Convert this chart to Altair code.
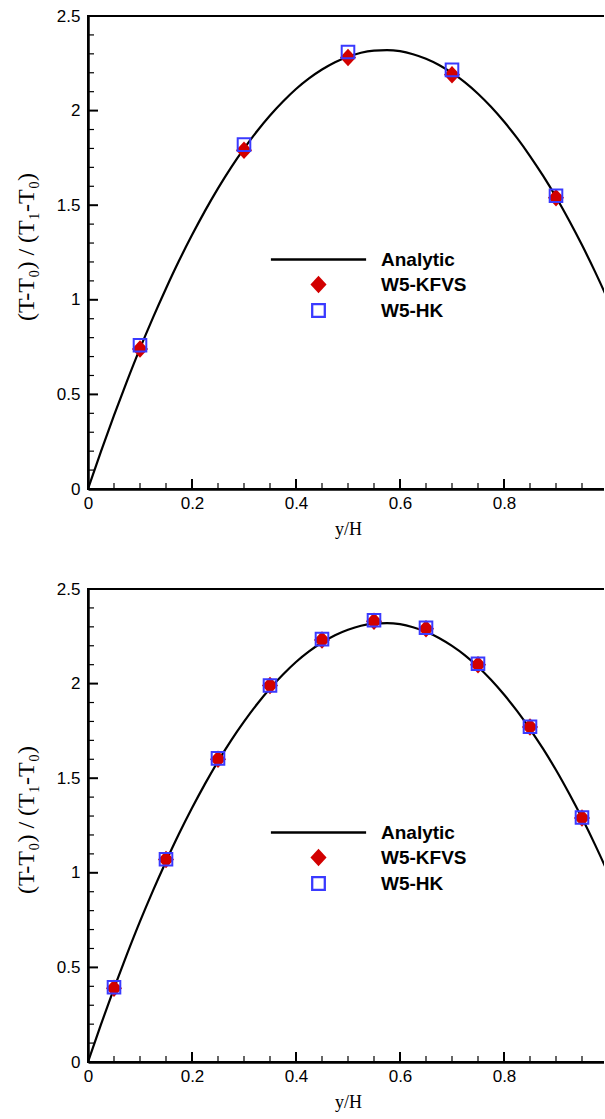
import altair as alt
import pandas as pd

# Analytic profile (T-T0)/(T1-T0) against y/H
curve_x = [0.0, 0.025, 0.05, 0.075, 0.1, 0.125, 0.15, 0.175, 0.2, 0.225, 0.25,
           0.275, 0.3, 0.325, 0.35, 0.375, 0.4, 0.425, 0.45, 0.475, 0.5,
           0.525, 0.55, 0.575, 0.6, 0.625, 0.65, 0.675, 0.7, 0.725, 0.75,
           0.775, 0.8, 0.825, 0.85, 0.875, 0.9, 0.925, 0.95, 0.975, 1.0]
curve_t = [0.0, 0.199, 0.389, 0.570, 0.743, 0.906, 1.060, 1.206, 1.342, 1.470, 1.589,
           1.699, 1.799, 1.891, 1.974, 2.048, 2.114, 2.170, 2.217, 2.256, 2.285,
           2.306, 2.317, 2.320, 2.314, 2.298, 2.274, 2.241, 2.199, 2.149, 2.089,
           2.020, 1.942, 1.856, 1.760, 1.656, 1.543, 1.420, 1.289, 1.149, 1.000]

# Coarse grid (upper panel)
top_x = [0.1, 0.3, 0.5, 0.7, 0.9]
top_kfvs = [0.74, 1.79, 2.28, 2.19, 1.54]
top_hk = [0.76, 1.82, 2.31, 2.215, 1.55]

# Fine grid (lower panel)
bot_x = [0.05, 0.15, 0.25, 0.35, 0.45, 0.55, 0.65, 0.75, 0.85, 0.95]
bot_kfvs = [0.39, 1.07, 1.60, 1.99, 2.23, 2.33, 2.29, 2.10, 1.77, 1.29]
bot_hk = [0.395, 1.072, 1.605, 1.99, 2.235, 2.335, 2.295, 2.105, 1.772, 1.292]

series_names = ["Analytic", "W5-KFVS", "W5-HK"]

x_major = [0.0, 0.2, 0.4, 0.6, 0.8, 1.0]
x_minor = [0.05, 0.1, 0.15, 0.25, 0.3, 0.35, 0.45, 0.5, 0.55,
           0.65, 0.7, 0.75, 0.85, 0.9, 0.95]
y_major = [0.0, 0.5, 1.0, 1.5, 2.0, 2.5]
y_minor = [0.1, 0.2, 0.3, 0.4, 0.6, 0.7, 0.8, 0.9, 1.1, 1.2, 1.3, 1.4,
           1.6, 1.7, 1.8, 1.9, 2.1, 2.2, 2.3, 2.4]

RED = "#d20000"
BLUE = "#3a3aff"
LINE_PATH = "M-6.8,0H6.8"
DIAMOND_PATH = "M0,-1.25L1.15,0L0,1.25L-1.15,0Z"
SQUARE_PATH = "M-0.9,-0.9H0.9V0.9H-0.9Z"

X_TITLE = "y/H"
Y_TITLE = "(T-T₀) / (T₁-T₀)"
W, H = 520, 473

x_scale = alt.Scale(domain=[0, 1], nice=False, zero=False)
y_scale = alt.Scale(domain=[0, 2.5], nice=False, zero=False)

x_axis = alt.Axis(values=x_major, format="~g", ticks=False, grid=False,
                  domainColor="black", domainWidth=2.5,
                  labelFont="Liberation Sans", labelFontSize=17, labelColor="black",
                  labelPadding=6, labelFlush=False,
                  titleFont="Liberation Serif", titleFontSize=18,
                  titleFontWeight="normal", titleColor="black", titlePadding=9)
y_axis = alt.Axis(values=y_major, format="~g", ticks=False, grid=False,
                  domainColor="black", domainWidth=2.5,
                  labelFont="Liberation Sans", labelFontSize=17, labelColor="black",
                  labelPadding=8, labelFlush=False,
                  titleFont="Liberation Serif", titleFontSize=24,
                  titleFontWeight="normal", titleColor="black", titlePadding=18,
                  titleY=H / 2 - 6)


def legend():
    return alt.Legend(orient="none", legendX=221, legendY=234, title=None,
                      labelFont="Liberation Sans", labelFontSize=19,
                      labelFontWeight="bold", labelColor="black",
                      symbolSize=196, symbolStrokeWidth=2.3, symbolOpacity=1,
                      labelOffset=53, rowPadding=1, padding=0)


def panel(px, kfvs, hk):
    curve = pd.DataFrame({"x": curve_x, "t": curve_t})
    pts = pd.DataFrame({
        "x": px + px,
        "t": kfvs + hk,
        "series": ["W5-KFVS"] * len(px) + ["W5-HK"] * len(px),
    })
    xt_major = pd.DataFrame({"x": x_major, "t": 0.0})
    xt_minor = pd.DataFrame({"x": x_minor, "t": 0.0})
    yt_major = pd.DataFrame({"x": 0.0, "t": y_major})
    yt_minor = pd.DataFrame({"x": 0.0, "t": y_minor})

    X = alt.X("x:Q", scale=x_scale, axis=x_axis, title=X_TITLE)
    Y = alt.Y("t:Q", scale=y_scale, axis=y_axis, title=Y_TITLE)

    line = alt.Chart(curve).mark_line(
        color="black", strokeWidth=2.2, interpolate="monotone"
    ).encode(x=X, y=Y)

    def xticks(df, length, width):
        return alt.Chart(df).mark_rule(
            color="black", strokeWidth=width, y2Offset=-length
        ).encode(x=X, y=Y, y2="t")

    def yticks(df, length, width):
        return alt.Chart(df).mark_rule(
            color="black", strokeWidth=width, x2Offset=length
        ).encode(x=X, x2="x", y=Y)

    markers = alt.Chart(pts).mark_point(size=196, strokeWidth=2, opacity=1).encode(
        x=X, y=Y,
        shape=alt.Shape("series:N", legend=legend(),
                        scale=alt.Scale(domain=series_names,
                                        range=[LINE_PATH, DIAMOND_PATH, SQUARE_PATH])),
        fill=alt.Fill("series:N", legend=legend(),
                      scale=alt.Scale(domain=series_names,
                                      range=["transparent", RED, "transparent"])),
        stroke=alt.Stroke("series:N", legend=legend(),
                          scale=alt.Scale(domain=series_names,
                                          range=["black", "transparent", BLUE])),
    )

    return alt.layer(
        xticks(xt_major, 10, 2), xticks(xt_minor, 6, 1.2),
        yticks(yt_major, 10, 2), yticks(yt_minor, 6, 1.2),
        line, markers,
    ).properties(width=W, height=H)


chart = alt.vconcat(
    panel(top_x, top_kfvs, top_hk),
    panel(bot_x, bot_kfvs, bot_hk),
    spacing=100, bounds="flush",
).resolve_scale(
    fill="independent", stroke="independent", shape="independent"
).resolve_legend(
    fill="independent", stroke="independent", shape="independent"
).configure_view(
    stroke="black", strokeWidth=2
).properties(
    padding={"left": 13, "top": 6, "right": -10, "bottom": 0},
    background="white",
)

chart.save("out.html", embed_options={"renderer": "svg", "actions": False})
